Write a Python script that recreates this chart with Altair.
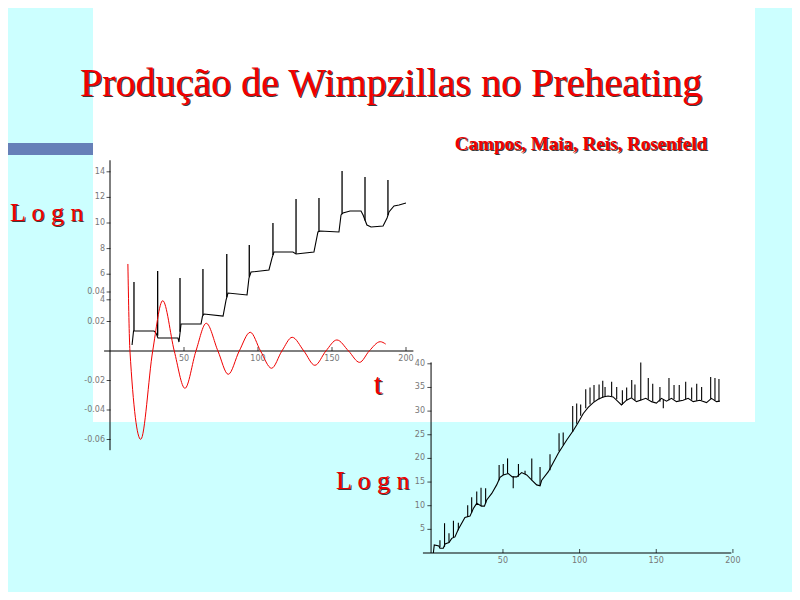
import altair as alt
import pandas as pd

OFF = 8  # page margin of the html page

# ---------------- data: left panel, black curve (Log n vs t) ----------------
left_t = [14.9, 15.9, 29.7, 31.1, 32.4, 45.9, 46.6, 48.0, 61.5, 62.5, 63.5, 76.4, 78.4, 79.7,
          92.6, 93.9, 95.3, 107.4, 109.5, 110.8, 123.6, 125.7, 137.8, 140.5, 141.9, 154.7,
          156.1, 157.4, 162.2, 169.6, 171.0, 173.6, 176.4, 184.5, 187.2, 188.5, 191.9, 195.3, 200.0]
left_logn = [0.47, 1.56, 1.56, 1.41, 1.02, 1.02, 0.70, 2.11, 2.11, 2.73, 2.89, 2.73, 3.98, 4.53,
             4.38, 5.70, 6.17, 6.33, 7.27, 7.73, 7.73, 7.58, 7.73, 9.30, 9.38, 9.30,
             10.63, 10.78, 10.94, 10.94, 10.63, 9.84, 9.69, 9.77, 10.39, 10.86, 11.33, 11.41, 11.56]
left_spike_t = [16.2, 32.2, 47.3, 62.8, 78.9, 94.1, 110.1, 125.7, 141.2, 156.8, 172.3, 187.8]
left_spike_base = [1.56, 1.2, 1.5, 2.8, 4.2, 5.8, 7.5, 7.6, 9.3, 10.7, 10.2, 10.6]
left_spike_top = [5.39, 6.25, 5.70, 6.41, 7.58, 8.28, 10.0, 11.88, 11.95, 14.06, 13.6, 13.36]
left_y_ticks = [4, 6, 8, 10, 12, 14]
left_x_ticks = [50, 100, 150, 200]

# ---------------- data: left panel, red oscillation ----------------
red_t = [2.6, 2.9, 4.47, 6.21, 7.67, 9.35, 10.9, 12.5, 14.0, 15.7, 17.2, 18.8, 20.4, 21.9,
         23.5, 25.0, 26.5, 28.2, 29.8, 31.4, 33.0, 34.7, 36.3, 37.7, 39.3, 40.1]
red_v = [0.059, 0.0, -0.0599, 0.0, 0.0341, 0.0, -0.0253, 0.0, 0.0188, 0.0, -0.0158, 0.0, 0.0127, 0.0,
         -0.0117, 0.0, 0.0093, 0.0, -0.0097, 0.0, 0.0075, 0.0, -0.0077, 0.0, 0.0063, 0.0047]
red_y_ticks = [0.04, 0.02, -0.02, -0.04, -0.06]
red_y_labels = ["0.04", "0.02", "-0.02", "-0.04", "-0.06"]

# ---------------- data: right panel ----------------
right_t = [4.6, 5.2, 8.2, 8.9, 11.1, 12.2, 14.8, 16.6, 18.7, 20.9, 23.1, 25.2, 28.5, 30.7, 32.9,
           36.1, 37.9, 39.4, 42.7, 45.9, 48.1, 50.2, 53.5, 56.1, 59.0, 62.2, 65.5, 68.8, 72.0,
           74.2, 75.3, 79.6, 86.1, 91.6, 95.9, 99.1, 102.4, 105.6, 108.9, 112.1, 115.4, 118.6,
           121.9, 125.1, 127.3, 130.6, 133.8, 137.1, 139.7, 143.2, 146.9, 150.1, 153.4, 156.7,
           159.9, 163.2, 167.5, 170.8, 174.1, 178.4, 182.8, 186.0, 189.3, 191.5]
right_logn = [0.0, 1.7, 1.5, 1.0, 1.0, 1.9, 2.2, 3.1, 3.4, 5.0, 6.3, 7.5, 7.8, 9.4, 10.5,
              9.9, 9.9, 11.2, 12.6, 14.4, 16.0, 16.5, 16.8, 16.1, 16.1, 17.0, 16.5, 15.4, 14.4,
              14.2, 15.4, 17.2, 21.1, 23.9, 25.9, 27.6, 29.5, 30.8, 31.8, 32.5, 33.0, 33.2,
              33.0, 32.0, 31.3, 32.3, 32.8, 32.0, 32.3, 32.7, 32.0, 31.7, 32.7, 32.1,
              32.7, 32.0, 32.3, 32.7, 32.0, 32.3, 31.8, 32.7, 32.0, 32.1]
right_spike_t = [8.9, 11.9, 14.8, 17.7, 20.9, 27.0, 29.6, 32.9, 35.7, 38.7, 47.5, 50.2, 53.0, 56.7,
                 60.1, 64.4, 68.8, 74.2, 80.7, 86.6, 89.3, 95.5, 98.1, 100.7, 104.0, 106.8, 109.4,
                 112.7, 115.1, 116.6, 120.9, 124.2, 127.9, 130.7, 134.0, 136.1, 139.9, 144.8,
                 147.7, 152.4, 154.6, 158.3, 161.6, 165.0, 169.2, 173.1, 176.4, 179.6, 185.5,
                 188.3, 190.9]
right_spike_base = [1.2, 1.3, 2.2, 3.2, 4.8, 7.6, 8.5, 10.4, 9.9, 10.5, 15.4, 16.5, 16.8, 16.2,
                    16.1, 16.7, 15.4, 14.3, 17.5, 21.5, 22.8, 25.6, 27.3, 29.0, 30.6, 31.4, 32.0,
                    32.5, 32.8, 33.0, 33.1, 32.5, 31.4, 32.3, 32.8, 32.3, 32.3, 32.5,
                    32.1, 32.0, 32.5, 32.3, 32.5, 32.2, 32.5, 32.4, 32.2, 32.3, 32.6,
                    32.3, 32.1]
right_spike_top = [2.7, 6.3, 4.2, 6.8, 6.4, 10.1, 11.8, 13.0, 13.8, 13.7, 18.6, 18.8, 20.0, 13.7,
                   18.8, 17.4, 20.0, 18.2, 20.9, 25.3, 25.5, 31.1, 31.6, 31.4, 34.6, 35.0, 35.5,
                   35.6, 36.4, 35.1, 36.2, 35.1, 34.4, 35.0, 36.6, 35.6, 40.3, 37.0,
                   35.8, 35.1, 30.6, 37.0, 35.5, 35.5, 36.2, 35.0, 35.8, 35.1, 37.2,
                   37.0, 36.8]
right_y_ticks = [5, 10, 15, 20, 25, 30, 35, 40]
right_x_ticks = [50, 100, 150, 200]

# ---------------- texts ----------------
title_text = "Produção de Wimpzillas no Preheating"
authors_text = "Campos, Maia, Reis, Rosenfeld"

# ---------------- colours ----------------
CYAN = "#CCFFFF"
BAR = "#6680B8"
RED = "#F00000"
SHADOW = "#3a3a3a"
TICK_COLOR = "#777777"


def px(v):
    return v - OFF


# scales (page pixel placement expressed through scale ranges)
bx = alt.Scale(domain=[0, 205], range=[px(110), px(110) + 205 * 1.48], nice=False, zero=False)
by = alt.Scale(domain=[0, 14.5], range=[px(351), px(351) - 14.5 * 12.8], nice=False, zero=False)
rx = alt.Scale(domain=[0, 42], range=[px(110), px(110) + 42 * 6.875], nice=False, zero=False)
ry = alt.Scale(domain=[-0.068, 0.06], range=[px(351) + 0.068 * 1475, px(351) - 0.06 * 1475],
               nice=False, zero=False)
qx = alt.Scale(domain=[0, 200], range=[px(426.3), px(426.3) + 200 * 1.533], nice=False, zero=False)
qy = alt.Scale(domain=[0, 40.4], range=[px(553), px(553) - 40.4 * 4.73], nice=False, zero=False)

one = pd.DataFrame({"k": [0]})

# ---------------- background ----------------
bg_white = alt.Chart(one).mark_rect(color="white").encode(
    x=alt.value(px(93)), x2=alt.value(px(755)), y=alt.value(0), y2=alt.value(px(422)))
bg_bar = alt.Chart(one).mark_rect(color=BAR).encode(
    x=alt.value(0), x2=alt.value(px(93)), y=alt.value(px(143)), y2=alt.value(px(155)))

# ---------------- left black panel ----------------
lb_df = pd.DataFrame({"t": left_t, "v": left_logn})
ls_df = pd.DataFrame({"t": left_spike_t, "b": left_spike_base, "top": left_spike_top})
lyt = pd.DataFrame({"v": left_y_ticks, "lab": [str(v) for v in left_y_ticks]})
lxt = pd.DataFrame({"t": left_x_ticks, "lab": [str(v) for v in left_x_ticks]})

black_line = alt.Chart(lb_df).mark_line(color="black", strokeWidth=1.1).encode(
    x=alt.X("t:Q", scale=bx, axis=None), y=alt.Y("v:Q", scale=by, axis=None))
black_spikes = alt.Chart(ls_df).mark_rule(color="black", strokeWidth=1.3).encode(
    x=alt.X("t:Q", scale=bx, axis=None), y=alt.Y("b:Q", scale=by, axis=None), y2="top:Q")
l_xaxis = alt.Chart(one).mark_rule(color="black", strokeWidth=1).encode(
    x=alt.X(datum=-4, scale=bx, axis=None), x2=alt.X2(datum=205),
    y=alt.Y(datum=0, scale=by, axis=None))
l_yaxis = alt.Chart(one).mark_rule(color="black", strokeWidth=1).encode(
    x=alt.X(datum=0, scale=bx, axis=None),
    y=alt.Y(datum=-7.75, scale=by, axis=None), y2=alt.Y2(datum=14.9))
l_yticks = alt.Chart(lyt).mark_tick(color="black", size=4, thickness=1, orient="horizontal").encode(
    x=alt.X(datum=-1, scale=bx, axis=None), y=alt.Y("v:Q", scale=by, axis=None))
l_ylabels = alt.Chart(lyt).mark_text(align="right", baseline="middle", dx=-5, fontSize=8,
                                     font="DejaVu Sans", color=TICK_COLOR).encode(
    x=alt.X(datum=0, scale=bx, axis=None), y=alt.Y("v:Q", scale=by, axis=None), text="lab:N")
l_xticks = alt.Chart(lxt).mark_tick(color="black", size=4, thickness=1, orient="vertical").encode(
    x=alt.X("t:Q", scale=bx, axis=None), y=alt.Y(datum=0.15, scale=by, axis=None))
l_xlabels = alt.Chart(lxt).mark_text(align="center", baseline="middle", dy=8, fontSize=8,
                                     font="DejaVu Sans", color=TICK_COLOR).encode(
    x=alt.X("t:Q", scale=bx, axis=None), y=alt.Y(datum=0, scale=by, axis=None), text="lab:N")
left_panel = alt.layer(l_xaxis, l_yaxis, l_yticks, l_ylabels, l_xticks, l_xlabels,
                       black_line, black_spikes)

# ---------------- left red panel ----------------
red_df = pd.DataFrame({"t": red_t, "v": red_v})
ryt = pd.DataFrame({"v": red_y_ticks, "lab": red_y_labels})
red_line = alt.Chart(red_df).mark_line(color=RED, strokeWidth=1, interpolate="monotone").encode(
    x=alt.X("t:Q", scale=rx, axis=None), y=alt.Y("v:Q", scale=ry, axis=None))
r_yticks = alt.Chart(ryt).mark_tick(color="black", size=4, thickness=1, orient="horizontal").encode(
    x=alt.X(datum=-0.2, scale=rx, axis=None), y=alt.Y("v:Q", scale=ry, axis=None))
r_ylabels = alt.Chart(ryt).mark_text(align="right", baseline="middle", dx=-5, fontSize=8,
                                     font="DejaVu Sans", color=TICK_COLOR).encode(
    x=alt.X(datum=0, scale=rx, axis=None), y=alt.Y("v:Q", scale=ry, axis=None), text="lab:N")
red_panel = alt.layer(r_yticks, r_ylabels, red_line)

# ---------------- right panel ----------------
rb_df = pd.DataFrame({"t": right_t, "v": right_logn})
rs_df = pd.DataFrame({"t": right_spike_t, "b": right_spike_base, "top": right_spike_top})
qyt = pd.DataFrame({"v": right_y_ticks, "lab": [str(v) for v in right_y_ticks]})
qxt = pd.DataFrame({"t": right_x_ticks, "lab": [str(v) for v in right_x_ticks]})

q_line = alt.Chart(rb_df).mark_line(color="black", strokeWidth=1.1).encode(
    x=alt.X("t:Q", scale=qx, axis=None), y=alt.Y("v:Q", scale=qy, axis=None))
q_spikes = alt.Chart(rs_df).mark_rule(color="black", strokeWidth=1.1).encode(
    x=alt.X("t:Q", scale=qx, axis=None), y=alt.Y("b:Q", scale=qy, axis=None), y2="top:Q")
q_xaxis = alt.Chart(one).mark_rule(color="black", strokeWidth=1.2).encode(
    x=alt.X(datum=-2.2, scale=qx, axis=None), x2=alt.X2(datum=199),
    y=alt.Y(datum=0, scale=qy, axis=None))
q_yaxis = alt.Chart(one).mark_rule(color="black", strokeWidth=1).encode(
    x=alt.X(datum=3.1, scale=qx, axis=None),
    y=alt.Y(datum=0, scale=qy, axis=None), y2=alt.Y2(datum=40.3))
q_yticks = alt.Chart(qyt).mark_tick(color="black", size=4, thickness=1, orient="horizontal").encode(
    x=alt.X(datum=2.0, scale=qx, axis=None), y=alt.Y("v:Q", scale=qy, axis=None))
q_ylabels = alt.Chart(qyt).mark_text(align="right", baseline="middle", dx=-6, fontSize=8,
                                     font="DejaVu Sans", color=TICK_COLOR).encode(
    x=alt.X(datum=3.1, scale=qx, axis=None), y=alt.Y("v:Q", scale=qy, axis=None), text="lab:N")
q_xticks = alt.Chart(qxt).mark_tick(color="black", size=4, thickness=1, orient="vertical").encode(
    x=alt.X("t:Q", scale=qx, axis=None), y=alt.Y(datum=0.4, scale=qy, axis=None))
q_xlabels = alt.Chart(qxt).mark_text(align="center", baseline="middle", dy=8, fontSize=8,
                                     font="DejaVu Sans", color=TICK_COLOR).encode(
    x=alt.X("t:Q", scale=qx, axis=None), y=alt.Y(datum=0, scale=qy, axis=None), text="lab:N")
right_panel = alt.layer(q_xaxis, q_yaxis, q_yticks, q_ylabels, q_xticks, q_xlabels,
                        q_line, q_spikes)


# ---------------- slide texts ----------------
def label(text, x, y, size, weight="normal", align="center"):
    layers = []
    for col, d in ((SHADOW, 1.2), (RED, 0)):
        layers.append(alt.Chart(one).mark_text(
            text=text, font="Liberation Serif", fontSize=size, fontWeight=weight,
            align=align, baseline="alphabetic", color=col, dx=d, dy=d,
        ).encode(x=alt.value(px(x)), y=alt.value(px(y))))
    return layers


texts = []
texts += label(title_text, 391, 96, 40)
texts += label(authors_text, 581, 150, 19, weight="bold")
texts += label("L o g n", 10, 221, 26, align="left")
texts += label("t", 378, 394, 30)
texts += label("L o g n", 336, 489, 26, align="left")

# 784 x 584 keeps the page (plus its 8px margins) inside the 800x600 window, unscaled
chart = alt.layer(
    bg_white, bg_bar, left_panel, red_panel, right_panel, *texts
).resolve_scale(x="independent", y="independent").properties(
    width=784, height=584, padding=0,
    autosize=alt.AutoSizeParams(type="none"),
    background=CYAN,
).configure_view(stroke=None)

chart.save("out.html", embed_options={"renderer": "svg", "actions": False})
